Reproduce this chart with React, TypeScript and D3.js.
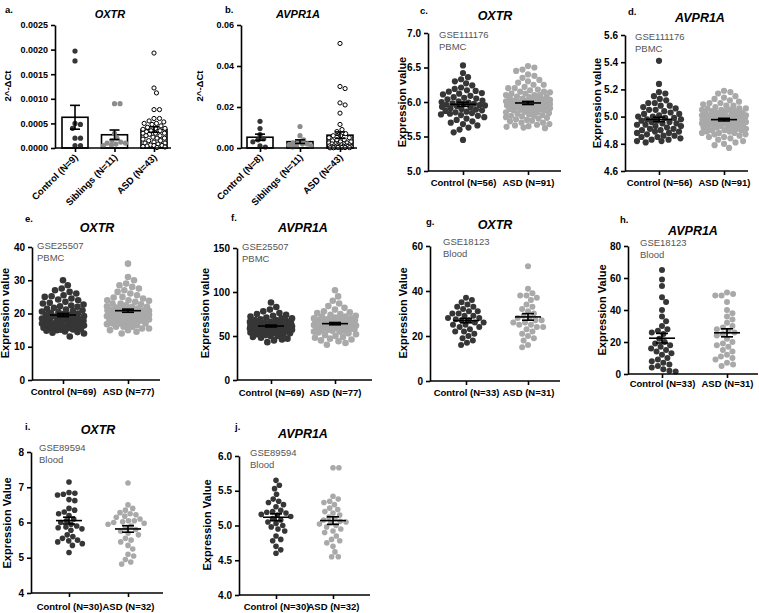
import React, { useRef, useEffect } from 'react';
import * as d3 from 'd3';

// ---- qPCR, 2^-ΔCt ----
const qpcrGroups = ['Control (N=9)', 'Siblings (N=11)', 'ASD (N=43)'];
const qpcrGroupsB = ['Control (N=8)', 'Siblings (N=11)', 'ASD (N=43)'];
const qOxtrCtrl = [0.00197, 0.00177, 0.0005, 0.00048, 0.0004, 0.0002, 0.0002, 0.00005, 0.00005];
const qOxtrSib = [0.0009, 0.0009, 0.0003, 0.0002, 0.00015, 0.00012, 0.0001, 0.0001, 0.00008, 0.00006, 0.00005];
const qOxtrAsd = [0.00193, 0.00122, 0.00112, 0.00078, 0.00078, 0.0006, 0.0006, 0.00055, 0.00053, 0.0005, 0.0005,
  0.00048, 0.00045, 0.00042, 0.0004, 0.0004, 0.00038, 0.00035, 0.00035, 0.00033, 0.0003, 0.0003, 0.00028,
  0.00025, 0.00025, 0.00022, 0.0002, 0.0002, 0.00018, 0.00015, 0.00015, 0.00012, 0.0001, 0.0001, 0.00008,
  0.00006, 0.00005, 0.00004, 0.00003, 0.00002, 0.00001, 0.00005, 0.0003];
const qAvprCtrl = [0.013, 0.0095, 0.0065, 0.0045, 0.004, 0.003, 0.001, 0.0005];
const qAvprSib = [0.0105, 0.006, 0.004, 0.003, 0.0025, 0.002, 0.002, 0.0015, 0.001, 0.001, 0.0005];
const qAvprAsd = [0.051, 0.03, 0.029, 0.022, 0.021, 0.017, 0.0115, 0.009, 0.008, 0.007, 0.006, 0.006, 0.005,
  0.005, 0.004, 0.004, 0.0035, 0.003, 0.003, 0.0025, 0.0025, 0.002, 0.002, 0.002, 0.0015, 0.0015, 0.0015,
  0.001, 0.001, 0.001, 0.001, 0.0008, 0.0008, 0.0006, 0.0005, 0.0005, 0.0004, 0.0003, 0.0003, 0.0002, 0.0002,
  0.0001, 0.0001];

// ---- GSE111176 PBMC ----
const gse111176Groups = ['Control (N=56)', 'ASD (N=91)'];
const oxtr111176Ctrl = [6.53, 6.42, 6.36, 6.33, 6.3, 6.27, 6.24, 6.21, 6.19, 6.17, 6.15, 6.13, 6.11, 6.09,
  6.07, 6.05, 6.04, 6.02, 6.01, 6.0, 5.99, 5.98, 5.97, 5.96, 5.95, 5.94, 5.93, 5.92, 5.91, 5.9, 5.89, 5.88,
  5.87, 5.86, 5.85, 5.84, 5.83, 5.82, 5.81, 5.8, 5.78, 5.76, 5.74, 5.72, 5.7, 5.68, 5.66, 5.63, 5.6, 5.56,
  5.45, 6.16, 6.06, 5.955, 5.975, 6.12];
const oxtr111176Asd = [6.52, 6.5, 6.47, 6.45, 6.4, 6.38, 6.35, 6.32, 6.3, 6.28, 6.25, 6.25, 6.22, 6.2, 6.2,
  6.18, 6.17, 6.15, 6.15, 6.14, 6.12, 6.12, 6.1, 6.1, 6.1, 6.08, 6.08, 6.07, 6.05, 6.05, 6.05, 6.04, 6.03,
  6.02, 6.02, 6.01, 6.0, 6.0, 6.0, 5.99, 5.98, 5.98, 5.97, 5.97, 5.96, 5.96, 5.95, 5.95, 5.95, 5.94, 5.94,
  5.93, 5.93, 5.92, 5.92, 5.91, 5.9, 5.9, 5.9, 5.89, 5.88, 5.88, 5.87, 5.86, 5.85, 5.85, 5.84, 5.83, 5.82,
  5.81, 5.8, 5.8, 5.79, 5.78, 5.77, 5.76, 5.75, 5.74, 5.73, 5.72, 5.7, 5.7, 5.68, 5.67, 5.66, 5.65, 5.64,
  5.63, 5.62, 6.03, 5.97];
const avpr111176Ctrl = [5.41, 5.24, 5.18, 5.17, 5.15, 5.12, 5.1, 5.1, 5.08, 5.07, 5.06, 5.05, 5.05, 5.04,
  5.03, 5.02, 5.01, 5.0, 5.0, 4.99, 4.98, 4.98, 4.97, 4.96, 4.95, 4.95, 4.94, 4.93, 4.93, 4.92, 4.91, 4.9,
  4.9, 4.89, 4.88, 4.88, 4.87, 4.86, 4.85, 4.85, 4.84, 4.83, 4.83, 4.82, 4.82, 4.81, 5.02, 4.97, 4.94, 4.91,
  5.13, 5.08, 4.99, 4.96, 4.89, 4.86];
const avpr111176Asd = [5.19, 5.18, 5.17, 5.15, 5.14, 5.13, 5.12, 5.11, 5.1, 5.1, 5.09, 5.08, 5.08, 5.07,
  5.06, 5.06, 5.05, 5.05, 5.04, 5.04, 5.03, 5.03, 5.02, 5.02, 5.01, 5.01, 5.0, 5.0, 5.0, 5.0, 4.99, 4.99,
  4.99, 4.98, 4.98, 4.98, 4.97, 4.97, 4.97, 4.96, 4.96, 4.96, 4.95, 4.95, 4.95, 4.94, 4.94, 4.93, 4.93, 4.92,
  4.92, 4.91, 4.91, 4.9, 4.9, 4.89, 4.89, 4.88, 4.88, 4.87, 4.87, 4.86, 4.85, 4.85, 4.84, 4.83, 4.82, 4.81,
  4.8, 4.79, 4.77, 5.01, 5.0, 4.99, 4.98, 4.97, 4.96, 4.95, 4.94, 4.93, 5.03, 5.02, 5.06, 4.92, 4.9, 4.88,
  5.04, 5.05, 4.97, 4.99, 5.0];

// ---- GSE25507 PBMC ----
const gse25507Groups = ['Control (N=69)', 'ASD (N=77)'];
const oxtr25507Ctrl = [30, 28.5, 27.5, 27, 26.5, 26, 25.5, 25, 24.5, 24, 23.5, 23, 22.7, 22.4, 22, 21.7,
  21.4, 21, 20.7, 20.4, 20, 19.8, 19.5, 19.2, 19, 18.8, 18.5, 18.2, 18, 17.8, 17.5, 17.3, 17, 16.8, 16.5,
  16.3, 16, 15.8, 15.6, 15.4, 15.2, 15, 14.8, 14.6, 14.4, 14.2, 14, 25.2, 24.2, 13.1, 19.6, 19.1, 18.6, 17.9,
  17.4, 16.9, 16.4, 15.9, 15.5, 15.1, 20.2, 21.2, 22.2, 23.2, 16.1, 15.7, 18.3, 17.1, 20.6];
const oxtr25507Asd = [35, 31, 30, 29, 28.5, 28, 27.5, 27, 26, 25.5, 25, 24.5, 24, 24, 23.5, 23, 23, 22.5,
  22, 22, 21.5, 21.5, 21, 21, 21, 20.5, 20.5, 20.5, 20, 20, 20, 20, 19.5, 19.5, 19.5, 19, 19, 19, 18.5, 18.5,
  18.5, 18, 18, 18, 17.5, 17.5, 17, 17, 17, 16.5, 16.5, 16, 16, 16, 15.5, 15.5, 15, 15, 14.5, 14, 20.8, 19.8,
  21.8, 18.8, 22.8, 17.8, 20.2, 19.2, 21.2, 18.2, 16.8, 20.6, 19.6, 23.8, 24.8, 26.5, 22.2];
const avpr25507Ctrl = [88, 83, 80, 78, 76, 75, 74, 73, 72, 71, 70, 70, 69, 68, 68, 67, 66, 66, 65, 65, 64,
  64, 63, 63, 63, 62, 62, 62, 61, 61, 61, 60, 60, 60, 59, 59, 59, 58, 58, 57, 57, 56, 56, 55, 55, 54, 54, 53,
  53, 52, 52, 51, 50, 50, 49, 48, 47, 46, 45, 43, 62.5, 61.5, 60.5, 59.5, 58.5, 63.5, 64.5, 57.5, 56.5];
const avpr25507Asd = [102, 95, 90, 87, 84, 82, 80, 78, 77, 76, 75, 74, 73, 72, 72, 71, 70, 70, 69, 69, 68,
  68, 67, 67, 66, 66, 66, 65, 65, 65, 64, 64, 64, 63, 63, 63, 62, 62, 62, 61, 61, 61, 60, 60, 60, 59, 59, 58,
  58, 57, 57, 56, 56, 55, 55, 54, 53, 52, 51, 50, 49, 48, 47, 46, 45, 44, 42, 40, 64.5, 63.5, 65.5, 62.5,
  66.5, 61.5, 67.5, 60.5, 68.5];

// ---- GSE18123 Blood ----
const gse18123Groups = ['Control (N=33)', 'ASD (N=31)'];
const oxtr18123Ctrl = [37, 36, 35, 34, 33, 33, 32, 31, 31, 30, 30, 29, 29, 28, 28, 27, 27, 26, 26, 25, 25,
  24, 24, 23, 22, 22, 21, 20, 19, 18, 17, 16, 27.5];
const oxtr18123Asd = [51, 41, 39, 38, 38, 37, 36, 34, 33, 32, 31, 30, 29, 28, 28, 27, 27, 26, 26, 25, 25, 24,
  24, 23, 22, 21, 20, 19, 18, 16, 15];
const avpr18123Ctrl = [65, 59, 55, 48, 45, 40, 36, 33, 30, 28, 27, 26, 25, 22, 20, 19, 18, 17, 16, 15, 14, 13,
  12, 10, 9, 8, 7, 6, 5, 4, 3, 2, 1.5];
const avpr18123Asd = [51, 50, 49, 49, 45, 40, 38, 36, 34, 32, 30, 29, 28, 27, 26, 25, 24, 22, 20, 19, 18, 17,
  15, 14, 12, 11, 10, 9, 7, 6, 5];

// ---- GSE89594 Blood ----
const gse89594Groups = ['Control (N=30)', 'ASD (N=32)'];
const oxtr89594Ctrl = [7.15, 6.85, 6.83, 6.8, 6.78, 6.65, 6.62, 6.4, 6.35, 6.3, 6.25, 6.1, 6.05, 6.0, 5.95,
  5.9, 5.87, 5.85, 5.82, 5.78, 5.65, 5.6, 5.55, 5.5, 5.48, 5.45, 5.4, 5.35, 5.15, 6.2];
const oxtr89594Asd = [7.12, 6.5, 6.4, 6.35, 6.28, 6.25, 6.22, 6.18, 6.15, 6.1, 6.05, 6.05, 6.0, 5.98, 5.95,
  5.9, 5.85, 5.8, 5.75, 5.7, 5.65, 5.55, 5.5, 5.45, 5.35, 5.25, 5.1, 5.05, 4.95, 4.88, 4.82, 6.02];
const avpr89594Ctrl = [5.65, 5.58, 5.53, 5.45, 5.38, 5.35, 5.33, 5.3, 5.27, 5.22, 5.2, 5.19, 5.18, 5.15, 5.13,
  5.1, 5.08, 5.05, 5.03, 5.0, 4.98, 4.95, 4.92, 4.85, 4.8, 4.78, 4.7, 4.65, 4.6, 5.16];
const avpr89594Asd = [5.83, 5.83, 5.42, 5.38, 5.35, 5.33, 5.3, 5.25, 5.23, 5.2, 5.18, 5.15, 5.12, 5.1, 5.08,
  5.05, 5.04, 5.02, 5.0, 4.98, 4.95, 4.92, 4.9, 4.85, 4.8, 4.78, 4.75, 4.7, 4.62, 4.55, 4.55, 5.06];

const FONT = 'Liberation Sans, Arial, Helvetica, sans-serif';
const CTRL = '#363636';
const SIB = '#8c8c8c';
const ASD = '#a9a9a9';

const panels = [
  { tag: 'a.', tagAt: [5, 13], title: 'OXTR', titleAt: [110, 18], kind: 'bar', ylabel: '2^-ΔCt', ylabelAt: [8, 86],
    ax: 55, axEnd: 171, yr: [148, 25], domain: [0, 0.0025], ticks: [0, 0.0005, 0.001, 0.0015, 0.002, 0.0025], fmt: '.4f',
    groups: qpcrGroups, cx: [75, 154], series: [qOxtrCtrl, qOxtrSib, qOxtrAsd], r: 2.6, maxW: 11 },
  { tag: 'b.', tagAt: [225, 13], title: 'AVPR1A', titleAt: [298, 18], kind: 'bar', ylabel: '2^-ΔCt', ylabelAt: [200, 86],
    ax: 241, axEnd: 357, yr: [148, 25], domain: [0, 0.06], ticks: [0, 0.02, 0.04, 0.06], fmt: '.2f',
    groups: qpcrGroupsB, cx: [260, 340], series: [qAvprCtrl, qAvprSib, qAvprAsd], r: 2.6, maxW: 11 },
  { tag: 'c.', tagAt: [420, 14], title: 'OXTR', titleAt: [495, 20], note: ['GSE111176', 'PBMC'], noteAt: [439, 38],
    ylabel: 'Expression value', ylabelAt: [403, 102], ax: 428, axEnd: 561, yr: [171, 33], domain: [5, 7],
    ticks: [5, 5.5, 6, 6.5, 7], fmt: '.1f', groups: gse111176Groups, cx: [463, 528], labelY: 186,
    series: [oxtr111176Ctrl, oxtr111176Asd], r: 3.1, maxW: 22 },
  { tag: 'd.', tagAt: [628, 15], title: 'AVPR1A', titleAt: [700, 22], note: ['GSE111176', 'PBMC'], noteAt: [635, 40],
    ylabel: 'Expression value', ylabelAt: [598, 103], ax: 625, axEnd: 748, yr: [171, 35], domain: [4.6, 5.6],
    ticks: [4.6, 4.8, 5.0, 5.2, 5.4, 5.6], fmt: '.1f', groups: gse111176Groups, cx: [659, 724], labelY: 186,
    series: [avpr111176Ctrl, avpr111176Asd], r: 3.1, maxW: 22 },
  { tag: 'e.', tagAt: [25, 222], title: 'OXTR', titleAt: [97, 232], note: ['GSE25507', 'PBMC'], noteAt: [37, 249],
    ylabel: 'Expression value', ylabelAt: [6, 313], ax: 32, axEnd: 160, yr: [380, 247], domain: [0, 40],
    ticks: [0, 10, 20, 30, 40], fmt: 'd', groups: gse25507Groups, cx: [63, 128], labelY: 395,
    series: [oxtr25507Ctrl, oxtr25507Asd], r: 3.3, maxW: 21 },
  { tag: 'f.', tagAt: [231, 221], title: 'AVPR1A', titleAt: [303, 232], note: ['GSE25507', 'PBMC'], noteAt: [242, 250],
    ylabel: 'Expression value', ylabelAt: [206, 313], ax: 237, axEnd: 372, yr: [380, 248], domain: [0, 150],
    ticks: [0, 50, 100, 150], fmt: 'd', groups: gse25507Groups, cx: [271, 335], labelY: 396,
    series: [avpr25507Ctrl, avpr25507Asd], r: 3.3, maxW: 21 },
  { tag: 'g.', tagAt: [426, 225], title: 'OXTR', titleAt: [495, 229], note: ['GSE18123', 'Blood'], noteAt: [443, 245],
    ylabel: 'Expression Value', ylabelAt: [404, 313], ax: 430, axEnd: 560, yr: [381, 246], domain: [0, 60],
    ticks: [0, 20, 40, 60], fmt: 'd', groups: gse18123Groups, cx: [466, 528], labelY: 396,
    series: [oxtr18123Ctrl, oxtr18123Asd], r: 3.0, maxW: 18 },
  { tag: 'h.', tagAt: [620, 223], title: 'AVPR1A', titleAt: [693, 235], note: ['GSE18123', 'Blood'], noteAt: [640, 246],
    ylabel: 'Expression Value', ylabelAt: [603, 310], ax: 628, axEnd: 758, yr: [374, 246], domain: [0, 80],
    ticks: [0, 20, 40, 60, 80], fmt: 'd', groups: gse18123Groups, cx: [662, 727], labelY: 387,
    series: [avpr18123Ctrl, avpr18123Asd], r: 3.0, maxW: 16 },
  { tag: 'i.', tagAt: [25, 430], title: 'OXTR', titleAt: [98, 434], note: ['GSE89594', 'Blood'], noteAt: [39, 451],
    ylabel: 'Expression Value', ylabelAt: [8, 523], ax: 31, axEnd: 163, yr: [593, 452], domain: [4, 8],
    ticks: [4, 5, 6, 7, 8], fmt: 'd', groups: gse89594Groups, cx: [69, 128], labelY: 610,
    series: [oxtr89594Ctrl, oxtr89594Asd], r: 2.8, maxW: 21 },
  { tag: 'j.', tagAt: [235, 430], title: 'AVPR1A', titleAt: [303, 438], note: ['GSE89594', 'Blood'], noteAt: [250, 456],
    ylabel: 'Expression Value', ylabelAt: [208, 525], ax: 239, axEnd: 370, yr: [595, 456], domain: [4, 6],
    ticks: [4, 4.5, 5, 5.5, 6], fmt: '.1f', groups: gse89594Groups, cx: [276, 333], labelY: 610,
    series: [avpr89594Ctrl, avpr89594Asd], r: 2.8, maxW: 20 },
];

// beeswarm: points sorted by y take the nearest free x offset within ±maxW;
// when a row is full, the least crowded spot is used (points overlap, as in Prism)
function swarm(values: number[], y: (v: number) => number, cx: number, r: number, maxW: number) {
  const d = 2 * r + 0.3;
  const ys = values.map(v => y(v)).sort((a, b) => a - b);
  const placed: { x: number; y: number }[] = [];
  const minDist = (c: number, py: number) =>
    placed.reduce((m, p) => Math.min(m, Math.hypot(p.x - cx - c, p.y - py)), Infinity);
  ys.forEach(py => {
    const cands = [0];
    placed.forEach(p => {
      const dy = py - p.y;
      if (Math.abs(dy) < d) {
        const dx = Math.sqrt(d * d - dy * dy);
        cands.push(p.x - cx + dx, p.x - cx - dx);
      }
    });
    const free = cands.filter(c => Math.abs(c) <= maxW && minDist(c, py) >= d - 0.01)
      .sort((a, b) => Math.abs(a) - Math.abs(b));
    let c = free[0];
    if (c === undefined) {
      let best = -1;
      for (let t = 0; t <= maxW; t += 0.5) {
        [t, -t].forEach(o => {
          const md = minDist(o, py);
          if (md > best + 0.05) { best = md; c = o; }
        });
      }
    }
    placed.push({ x: cx + (c as number), y: py });
  });
  return placed;
}

const sem = (v: number[]) => (d3.deviation(v) as number) / Math.sqrt(v.length);

const App = () => {
  const svgRef = useRef<SVGSVGElement>(null);

  useEffect(() => {
    const svg = d3.select(svgRef.current);
    svg.selectAll('*').remove();

    panels.forEach((p: any) => {
      const g = svg.append('g');
      const y = d3.scaleLinear().domain(p.domain).range(p.yr);
      const x = d3.scalePoint().domain(p.groups).range(p.cx);
      const isBar = p.kind === 'bar';
      const colors = isBar ? [CTRL, SIB, '#fff'] : [CTRL, ASD];

      // panel tag + title
      g.append('text').attr('x', p.tagAt[0]).attr('y', p.tagAt[1]).text(p.tag)
        .attr('font-size', 9.5).attr('font-weight', 'bold').attr('font-family', FONT);
      g.append('text').attr('x', p.titleAt[0]).attr('y', p.titleAt[1]).text(p.title)
        .attr('text-anchor', 'middle').attr('font-size', isBar ? 11 : 12.5).attr('font-weight', 'bold')
        .attr('font-style', 'italic').attr('font-family', FONT);

      if (p.note) {
        p.note.forEach((t: string, i: number) => {
          g.append('text').attr('x', p.noteAt[0]).attr('y', p.noteAt[1] + i * 12).text(t)
            .attr('font-size', 9.5).attr('fill', '#555').attr('font-family', FONT);
        });
      }

      // y label
      g.append('text')
        .attr('transform', `translate(${p.ylabelAt[0]}, ${p.ylabelAt[1]}) rotate(-90)`)
        .attr('text-anchor', 'middle').attr('dominant-baseline', 'middle')
        .attr('font-size', isBar ? 9.5 : 11).attr('font-weight', 'bold').attr('font-family', FONT)
        .text(p.ylabel);

      // bars
      if (isBar) {
        p.series.forEach((s: number[], i: number) => {
          const m = d3.mean(s) as number;
          g.append('rect').attr('x', (x(p.groups[i]) as number) - 13).attr('width', 26)
            .attr('y', y(m)).attr('height', y(0) - y(m))
            .attr('fill', 'none').attr('stroke', '#000').attr('stroke-width', 1.6);
        });
      }

      // points
      p.series.forEach((s: number[], i: number) => {
        const cx = x(p.groups[i]) as number;
        const pts = swarm(s, y, cx, p.r, p.maxW);
        g.selectAll(null).data(pts).enter().append('circle')
          .attr('cx', d => d.x).attr('cy', d => d.y).attr('r', isBar && i === 2 ? p.r - 0.5 : p.r)
          .attr('fill', colors[i])
          .attr('stroke', isBar && i === 2 ? '#000' : 'none').attr('stroke-width', 1);
      });

      // mean ± SEM
      p.series.forEach((s: number[], i: number) => {
        const cx = x(p.groups[i]) as number;
        const m = d3.mean(s) as number;
        const e = sem(s);
        const hw = isBar ? 0 : 13;
        const cap = isBar ? 5 : 6;
        const lines = [
          [cx - hw, y(m), cx + hw, y(m)],
          [cx, y(m - e), cx, y(m + e)],
          [cx - cap, y(m + e), cx + cap, y(m + e)],
          [cx - cap, y(m - e), cx + cap, y(m - e)],
        ];
        g.selectAll(null).data(hw ? lines : lines.slice(1)).enter().append('line')
          .attr('x1', d => d[0]).attr('y1', d => d[1]).attr('x2', d => d[2]).attr('y2', d => d[3])
          .attr('stroke', '#000').attr('stroke-width', 1.6);
      });

      // axes
      const yAxis = g.append('g').attr('transform', `translate(${p.ax},0)`)
        .call(d3.axisLeft(y).tickValues(p.ticks).tickFormat(d3.format(p.fmt)).tickSize(4).tickSizeOuter(0));
      yAxis.selectAll('text').attr('font-size', isBar ? 9 : 10).attr('font-weight', 'bold')
        .attr('font-family', FONT).attr('fill', '#000');

      const base = p.yr[0];
      const xAxis = g.append('g').attr('transform', `translate(0,${base})`)
        .call(d3.axisBottom(x).tickSize(4));
      xAxis.select('.domain').remove();
      xAxis.append('line').attr('x1', p.ax).attr('x2', p.axEnd);
      xAxis.selectAll('text').attr('font-size', 9.5).attr('font-weight', 'bold')
        .attr('font-family', FONT).attr('fill', '#000');
      if (isBar) {
        xAxis.selectAll('.tick text')
          .attr('text-anchor', 'end').attr('dy', 0).attr('y', 0)
          .attr('transform', 'translate(3,10) rotate(-45)');
      } else {
        xAxis.selectAll('.tick text').attr('dy', 0).attr('y', p.labelY - base);
      }

      [yAxis, xAxis].forEach(a => {
        a.selectAll('path, line').attr('stroke', '#000').attr('stroke-width', 1.6);
      });
    });
  }, []);

  return (
    <svg ref={svgRef} width={759} height={613}
      style={{ position: 'absolute', left: 0, top: 0, background: '#fff' }} />
  );
};

export default App;
